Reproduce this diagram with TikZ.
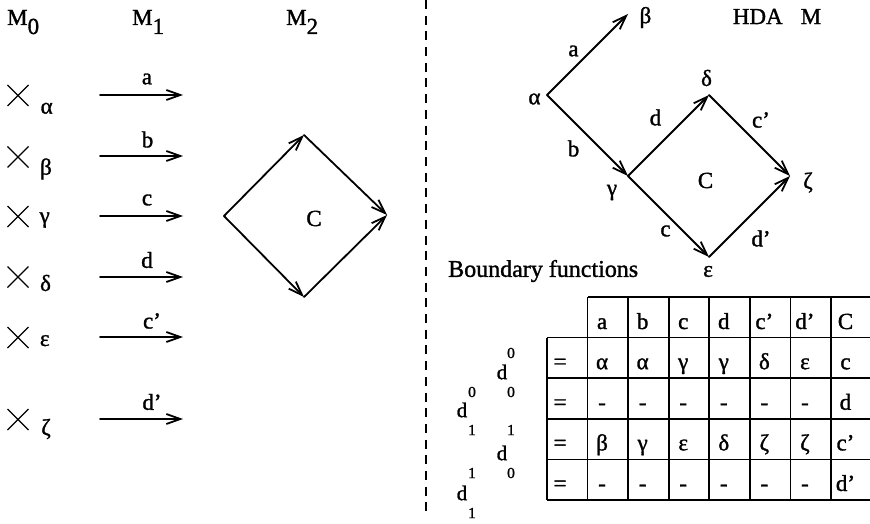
\documentclass[tikz,border=0pt]{standalone}
\usepackage{fontspec}
\setmainfont{Liberation Serif}
\newfontfamily\heavy{Liberation Serif}[FakeBold=1.3]
\usetikzlibrary{arrows.meta}
\begin{document}
\begin{tikzpicture}[x=1pt,y=-1pt,
  txt/.style={inner sep=0pt, font=\heavy\fontsize{23}{27}\selectfont},
  bigtxt/.style={inner sep=0pt, font=\heavy\fontsize{24}{28}\selectfont},
  dtxt/.style={inner sep=0pt, font=\heavy\fontsize{21}{25}\selectfont},
  digtxt/.style={inner sep=0pt, font=\heavy\fontsize{15.5}{18}\selectfont},
  arr/.style={-{Straight Barb[length=14pt,width=10pt]}, line width=1.8pt, line cap=round},
  gridln/.style={line width=1.7pt},
  crossln/.style={line width=1.3pt},
  sepln/.style={line width=1.8pt, dash pattern=on 9pt off 6.7pt}]
\useasboundingbox (0,0) rectangle (870,524);
\fill[white] (0,0) rectangle (870,524);

% ---------- headings of the left part
\node[txt, anchor=base west] (m0) at (7,25) {M\raisebox{-9pt}{0}};
\node[txt, anchor=base west] (m1) at (132,25) {M\raisebox{-9pt}{1}};
\node[txt, anchor=base west] (m2) at (286,25) {M\raisebox{-9pt}{2}};

% ---------- M0 : crosses and states
\foreach \n/\cy/\g/\gx/\gy in {1/95.5/α/46.7/108.3, 2/157/β/46/169, 3/216.5/γ/44.7/220,
    4/277/δ/45.5/283, 5/337.5/ε/44.7/340.7, 6/419.5/ζ/46/429} {
  \coordinate (x\n) at (18,\cy);
  \draw[crossln] (x\n) ++(-10.5,-10.5) -- ++(21,21)
                 (x\n) ++(-10.5,10.5) -- ++(21,-21);
  \node[txt] (g\n) at (\gx,\gy) {\g};
}

% ---------- M1 : transitions
\foreach \n/\ay/\l/\lx/\ly in {1/95/a/147/79, 2/156/b/147.5/139.5, 3/216/c/147/200,
    4/277/d/147/260, 5/337/c’/152/321, 6/419/d’/152/402} {
  \coordinate (s\n) at (100,\ay);
  \coordinate (e\n) at (183,\ay);
  \draw[arr] (s\n) -- (e\n);
  \node[txt] (l\n) at (\lx,\ly) {\l};
}

% ---------- M2 : the square C
\coordinate (L) at (224,216);
\coordinate (T) at (304,135);
\coordinate (R) at (387,215);
\coordinate (B) at (304,297);
\draw[arr] (L) -- (T);
\draw[arr] (T) -- (R);
\draw[arr] (L) -- (B);
\draw[arr] (B) -- (R);
\node[txt] (cc) at (314,218.5) {C};

% ---------- separator
\coordinate (sept) at (426,0);
\coordinate (sepb) at (426,512);
\draw[sepln] (sept) -- (sepb);

% ---------- HDA M
\node[txt] (hda) at (777,16.5) {HDA\hspace{18pt}M};
\coordinate (va) at (547,95);
\coordinate (vb) at (628,14);
\coordinate (vg) at (628,176);
\coordinate (vd) at (709,95);
\coordinate (vz) at (790,176);
\coordinate (ve) at (709,257);
\draw[arr] (va) -- (vb);
\draw[arr] (va) -- (vg);
\draw[arr] (vg) -- (vd);
\draw[arr] (vd) -- (vz);
\draw[arr] (vg) -- (ve);
\draw[arr] (ve) -- (vz);
\node[txt] (na) at (534.5,99) {α};
\node[txt] (nb) at (645.5,17.5) {β};
\node[txt] (ng) at (612,192.5) {γ};
\node[txt] (nd) at (706.5,78) {δ};
\node[txt] (nz) at (808,182.5) {ζ};
\node[txt] (ne) at (708,271.5) {ε};
\node[txt] (ta) at (573.5,51) {a};
\node[txt] (tb) at (573.5,148.5) {b};
\node[txt] (td) at (655.5,117.5) {d};
\node[txt] (tcp) at (761,120) {c’};
\node[txt] (tC) at (705.5,180.5) {C};
\node[txt] (tc) at (665.5,231) {c};
\node[txt] (tdp) at (761,238.5) {d’};

% ---------- boundary functions
\node[bigtxt, anchor=west] (bf) at (448,271) {Boundary functions};

% table grid
\draw[gridln] (588,297) -- (870,297);
\foreach \j in {1,...,5} \draw[gridln] (547,{297+40.6*\j}) -- (870,{297+40.6*\j});
\draw[gridln] (547,337.6) -- (547,500);
\foreach \i in {1,...,7} \draw[gridln] ({547+40.57*\i},297) -- ({547+40.57*\i},500);

% table contents
\foreach \i/\t in {1/a,2/b,3/c,4/d,5/c’,6/d’,7/C}
  \node[txt, anchor=base] (h\i) at ({547+40.57*\i+14.5},329) {\t};
\foreach \i/\t in {1/α,2/α,3/γ,4/γ,5/δ,6/ε,7/c}
  \node[txt, anchor=base] (r1c\i) at ({547+40.57*\i+14.5},369.2) {\t};
\foreach \i/\t in {1/-,2/-,3/-,4/-,5/-,6/-,7/d}
  \node[txt, anchor=base] (r2c\i) at ({547+40.57*\i+14.5},409.8) {\t};
\foreach \i/\t in {1/β,2/γ,3/ε,4/δ,5/ζ,6/ζ,7/c’}
  \node[txt, anchor=base] (r3c\i) at ({547+40.57*\i+14.5},450.4) {\t};
\foreach \i/\t in {1/-,2/-,3/-,4/-,5/-,6/-,7/d’}
  \node[txt, anchor=base] (r4c\i) at ({547+40.57*\i+14.5},491) {\t};
\foreach \j/\by in {1/369.2,2/409.8,3/450.4,4/491}
  \node[txt, anchor=base] (eq\j) at (560,\by) {=};

% boundary labels d
\node[dtxt] (dl1) at (502,372) {d};
\node[dtxt] (dl2) at (462,410) {d};
\node[dtxt] (dl3) at (502,453) {d};
\node[dtxt] (dl4) at (462,493) {d};
\node[digtxt] (n1) at (511,353) {0};
\node[digtxt] (n2) at (511,392) {0};
\node[digtxt] (n3) at (472,392) {0};
\node[digtxt] (n4) at (472,430) {1};
\node[digtxt] (n5) at (511,430) {1};
\node[digtxt] (n6) at (472,473) {1};
\node[digtxt] (n7) at (511,473) {0};
\node[digtxt] (n8) at (472,513) {1};
\end{tikzpicture}
\end{document}
